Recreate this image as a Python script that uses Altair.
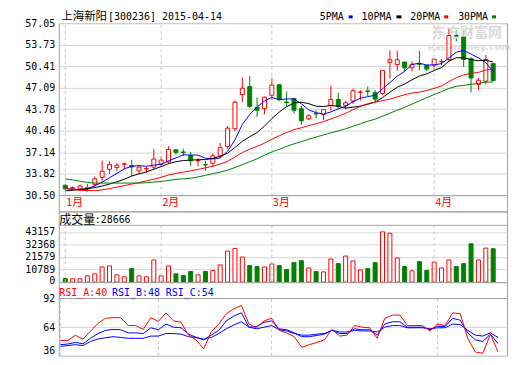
import altair as alt
import pandas as pd

# ---------------- values ----------------
opens = [32.07, 31.60, 31.48, 31.50, 32.21, 33.25, 34.53, 34.82, 35.30, 35.10,
         34.28, 34.60, 34.87, 35.36, 35.66, 37.53, 37.20, 36.64, 35.85, 35.25,
         35.46, 36.59, 38.07, 40.77, 46.04, 47.27, 44.07, 43.87, 45.94, 47.56,
         44.90, 45.45, 43.87, 42.30, 43.12, 42.99, 44.37, 45.30, 44.37, 45.05,
         46.40, 46.60, 46.33, 46.23, 51.00, 50.66, 51.05, 50.17, 50.80, 50.56,
         50.56, 51.10, 51.45, 55.15, 54.89, 51.55, 47.61, 48.10, 50.81]
highs = [32.20, 31.90, 32.20, 32.30, 33.40, 35.85, 35.76, 35.50, 35.60, 36.00,
         35.00, 34.90, 37.70, 36.50, 38.07, 37.60, 37.70, 37.20, 36.25, 35.85,
         37.00, 38.60, 41.20, 45.10, 48.64, 48.89, 45.60, 45.74, 48.64, 47.60,
         46.50, 45.50, 44.27, 43.00, 43.60, 43.80, 47.40, 46.33, 45.10, 46.97,
         46.70, 47.30, 46.73, 49.73, 52.87, 52.80, 51.10, 51.15, 52.77, 50.60,
         51.50, 51.55, 56.22, 55.97, 55.97, 51.79, 48.60, 52.14, 50.81]
lows = [31.40, 31.30, 31.20, 31.10, 31.80, 32.60, 33.80, 34.30, 34.50, 33.50,
        33.80, 34.00, 34.50, 35.00, 35.36, 36.80, 36.60, 35.00, 35.00, 34.30,
        35.00, 36.35, 37.70, 40.43, 44.86, 44.02, 42.60, 43.00, 45.25, 45.10,
        44.20, 43.10, 41.40, 42.15, 42.40, 42.15, 43.60, 43.87, 43.87, 44.60,
        45.10, 45.80, 44.86, 45.99, 48.55, 49.70, 49.60, 49.60, 49.80, 49.70,
        49.80, 50.56, 51.15, 54.25, 50.31, 46.38, 46.72, 47.61, 48.10]
closes = [31.53, 31.70, 31.97, 31.70, 33.05, 34.23, 35.26, 35.17, 35.35, 34.90,
          34.87, 34.65, 36.10, 35.95, 37.58, 37.13, 37.10, 35.85, 35.90, 35.20,
          36.60, 37.87, 40.87, 44.86, 47.02, 44.22, 43.63, 45.64, 47.51, 45.25,
          44.80, 43.63, 42.00, 42.79, 43.05, 43.73, 45.30, 44.27, 44.76, 46.63,
          46.45, 46.50, 45.35, 49.73, 51.40, 51.40, 50.17, 50.71, 50.70, 49.97,
          51.50, 51.15, 55.14, 55.05, 51.45, 48.60, 48.25, 51.45, 48.20]
volumes = [3120, 2840, 2840, 5390, 7100, 13060, 13910, 6240, 4540, 11640,
           5390, 4540, 19020, 5390, 13910, 7100, 5680, 9080, 6240, 9080,
           9930, 14760, 26680, 28950, 21570, 14190, 13340, 13060, 15610, 14190,
           10780, 16740, 18450, 12200, 9080, 8800, 19870, 15890, 22420, 18160,
           10500, 11640, 16740, 43157, 42000, 20720, 13340, 9650, 17600, 9930,
           17310, 12200, 19020, 13340, 15890, 32920, 19020, 29230, 28666]
ma5 = [31.60, 31.45, 31.35, 31.50, 31.99, 32.53, 33.24, 33.88, 34.61, 34.98,
       35.11, 34.99, 35.17, 35.29, 35.83, 36.28, 36.77, 36.72, 36.71, 36.24,
       36.13, 36.28, 37.29, 39.08, 41.44, 42.97, 44.12, 45.07, 45.60, 45.25,
       45.37, 45.37, 44.64, 43.69, 43.25, 43.04, 43.37, 43.83, 44.22, 44.94,
       45.48, 45.72, 45.94, 46.93, 47.89, 48.88, 49.61, 50.68, 50.88, 50.59,
       50.61, 50.81, 51.69, 52.56, 52.86, 52.28, 51.70, 50.96, 49.59]
ma10 = [31.20, 31.30, 31.45, 31.55, 31.70, 31.95, 32.25, 32.60, 33.00, 33.49,
        33.82, 34.12, 34.53, 34.95, 35.41, 35.70, 35.88, 35.95, 36.00, 36.03,
        36.21, 36.53, 37.01, 37.90, 38.84, 39.55, 40.20, 41.18, 42.34, 43.35,
        44.17, 44.74, 44.86, 44.65, 44.25, 44.20, 44.37, 44.23, 43.96, 44.10,
        44.26, 44.55, 44.88, 45.58, 46.41, 47.18, 47.67, 48.31, 48.90, 49.24,
        49.74, 50.21, 51.19, 51.72, 51.72, 51.44, 51.25, 51.33, 51.08]
ma20 = [31.60, 31.40, 31.30, 31.25, 31.25, 31.35, 31.55, 31.80, 32.00, 32.25,
        32.50, 32.75, 33.00, 33.30, 33.65, 33.90, 34.10, 34.30, 34.50, 34.76,
        35.01, 35.32, 35.77, 36.42, 37.12, 37.62, 38.04, 38.56, 39.17, 39.69,
        40.19, 40.64, 40.93, 41.27, 41.55, 41.88, 42.29, 42.71, 43.15, 43.72,
        44.21, 44.65, 44.87, 45.11, 45.33, 45.69, 46.02, 46.27, 46.43, 46.67,
        47.00, 47.38, 48.04, 48.65, 49.07, 49.31, 49.46, 49.82, 49.99]
ma30 = [33.05, 32.90, 32.70, 32.50, 32.41, 32.41, 32.41, 32.41, 32.41, 32.41,
        32.41, 32.46, 32.56, 32.66, 32.80, 33.00, 33.05, 33.15, 33.35, 33.60,
        33.85, 34.10, 34.40, 34.80, 35.25, 35.70, 36.15, 36.70, 37.20, 37.62,
        38.06, 38.46, 38.80, 39.17, 39.50, 39.82, 40.15, 40.45, 40.77, 41.16,
        41.54, 41.94, 42.25, 42.71, 43.17, 43.64, 44.08, 44.57, 45.07, 45.56,
        46.06, 46.50, 46.98, 47.32, 47.46, 47.61, 47.76, 47.96, 47.98]
rsi_a = [50.9, 50.9, 56.2, 52.2, 60.0, 67.7, 72.7, 73.3, 73.3, 65.6,
         65.6, 61.8, 73.3, 69.6, 78.0, 70.2, 68.7, 56.2, 51.6, 42.8,
         59.3, 67.1, 77.1, 82.0, 85.2, 67.1, 63.4, 70.2, 72.7, 60.9,
         58.4, 54.7, 44.4, 46.9, 49.1, 51.6, 61.8, 55.3, 56.2, 65.6,
         64.0, 63.4, 53.1, 72.7, 75.8, 75.8, 65.6, 65.6, 65.6, 60.3,
         67.1, 65.6, 78.0, 77.1, 53.1, 39.7, 38.5, 57.2, 40.0]
rsi_b = [46.9, 47.5, 49.1, 47.8, 53.1, 57.8, 60.9, 61.8, 61.5, 58.4,
         58.4, 57.8, 63.4, 61.5, 67.1, 64.0, 63.4, 57.2, 54.0, 51.6,
         56.2, 60.9, 70.2, 74.9, 78.0, 64.0, 64.6, 68.7, 70.2, 62.4,
         61.5, 58.4, 54.7, 54.7, 55.9, 57.2, 60.9, 57.8, 57.8, 62.4,
         61.5, 61.5, 56.2, 67.1, 69.3, 69.3, 64.0, 64.0, 64.0, 61.5,
         64.9, 64.6, 72.7, 70.8, 58.4, 51.6, 50.0, 57.2, 48.0]
rsi_c = [45.3, 46.0, 46.9, 46.0, 50.0, 52.5, 53.7, 54.7, 54.0, 53.1,
         53.1, 53.1, 55.3, 55.3, 57.8, 57.8, 57.2, 54.7, 54.0, 52.2,
         54.0, 57.8, 62.4, 66.2, 69.3, 64.0, 62.4, 64.0, 65.6, 61.5,
         60.3, 57.8, 56.2, 56.2, 57.2, 57.8, 60.9, 59.3, 59.3, 60.9,
         60.3, 60.3, 59.3, 64.0, 65.6, 65.6, 63.4, 63.4, 63.4, 62.4,
         63.4, 63.4, 67.1, 66.5, 60.9, 56.2, 55.3, 58.4, 54.0]

month_starts = [0, 13, 28, 50]
month_names = ["1月", "2月", "3月", "4月"]
price_ticks = [30.50, 33.82, 37.14, 40.46, 43.78, 47.09, 50.41, 53.73, 57.05]
volume_ticks = [0, 10789, 21579, 32368, 43157]
rsi_ticks = [36, 64, 92]
ma_names = ["5PMA", "10PMA", "20PMA", "30PMA"]
stock_name = "上海新阳"
stock_code_date = "[300236] 2015-04-14"
volume_title = "成交量"
volume_last = ":28666"
rsi_titles = ["RSI_A:40", "RSI_B:48", "RSI_C:54"]
watermark = ["东方财富网", "eastmoney.com"]

# ---------------- style ----------------
RED, GREEN, BLUE, BLACK = "#ff0000", "#008000", "#0000ff", "#000000"
GRID, FRAME, DASH = "#d6d6d6", "#a0a0a0", "#c4c4c4"
MONO, CJK = "DejaVu Sans Mono", "Noto Sans CJK SC"

W = 450
H_PRICE, H_STRIP = 173, 16
HM = H_PRICE + H_STRIP
HV, HV_HEAD = 71, 14
HR, HR_HEAD = 74, 16.5
HEAD_Y = -6.3

n = len(closes)
df = pd.DataFrame({"i": list(range(n)), "open": opens, "high": highs, "low": lows,
                   "close": closes, "volume": volumes, "MA5": ma5, "MA10": ma10,
                   "MA20": ma20, "MA30": ma30, "RA": rsi_a, "RB": rsi_b, "RC": rsi_c})
df["dir"] = ["up" if c >= o else "down" for o, c in zip(opens, closes)]
months = pd.DataFrame({"i": month_starts, "label": month_names})
one = pd.DataFrame({"k": [0]})

x_scale = alt.Scale(domain=[-0.2, 59.2], nice=False, zero=False)
X = alt.X("i:Q", scale=x_scale, axis=None)
stroke_scale = alt.Scale(domain=["up", "down"], range=[RED, GREEN])
fill_scale = alt.Scale(domain=["up", "down"], range=["#ffffff", GREEN])


def txt(text, x, y, size, color=BLACK, font=MONO, align="left", weight="normal"):
    return alt.Chart(pd.DataFrame({"t": [text]})).mark_text(
        align=align, baseline="middle", font=font, fontSize=size, color=color,
        fontWeight=weight).encode(x=alt.value(x), y=alt.value(y), text="t:N")


def axis(values, fmt, flush, flush_offset=0):
    return alt.Axis(values=values, format=fmt, grid=True, gridColor=GRID, domain=False,
                    ticks=False, labelPadding=4, labelFont=MONO, labelFontSize=10,
                    labelColor=BLACK, labelFlush=flush, labelFlushOffset=flush_offset,
                    labelOverlap=False, title=None)


# ---------------- price panel ----------------
p_lo, p_hi = price_ticks[0], price_ticks[-1]
p_min = p_lo - H_STRIP * (p_hi - p_lo) / H_PRICE
pscale = alt.Scale(domain=[p_min, p_hi], nice=False, zero=False)
P_AXIS = axis(price_ticks, ".2f", False)


def PY(f):
    return alt.Y(f, scale=pscale, axis=P_AXIS)


wm1 = txt(watermark[0], W - 40, 10, 14, color="#dadada", font=CJK, align="center", weight="bold")
wm2 = txt(watermark[1], W - 38, 23.5, 9.5, color="#dcdcdc", font="DejaVu Sans",
          align="center", weight="bold")
wicks = alt.Chart(df).mark_rule(strokeWidth=1).encode(
    x=X, y=PY("low:Q"), y2="high:Q",
    color=alt.Color("dir:N", scale=stroke_scale, legend=None))
p_dash = alt.Chart(months).mark_rule(color=DASH, strokeDash=[3, 3]).encode(
    x=X, y=alt.Y(datum=p_lo, scale=pscale, axis=P_AXIS), y2=alt.datum(p_hi))
p_sep = alt.Chart(one).mark_rule(color=FRAME).encode(y=alt.Y(datum=p_lo, scale=pscale, axis=P_AXIS))
bodies = alt.Chart(df).mark_bar(size=4, strokeWidth=1).encode(
    x=X, y=PY("open:Q"), y2="close:Q",
    fill=alt.Fill("dir:N", scale=fill_scale, legend=None),
    stroke=alt.Stroke("dir:N", scale=stroke_scale, legend=None))
ma_cols = ["MA5", "MA10", "MA20", "MA30"]
ma_colors = [BLUE, BLACK, RED, GREEN]
ma_lines = [alt.Chart(df).mark_line(strokeWidth=1, color=c).encode(x=X, y=PY(f"{m}:Q"))
            for m, c in zip(ma_cols, ma_colors)]
m_labels = alt.Chart(months).mark_text(align="left", baseline="middle", dx=1, font=CJK,
                                       fontSize=11, color=RED).encode(
    x=X, y=alt.value(H_PRICE + 7.6), text="label:N")
head = [txt(stock_name, 2.5, HEAD_Y, 11.5, font=CJK), txt(stock_code_date, 49.5, HEAD_Y, 10)]
label_right = [164, 116, 67, 19]
dash_span = [(159, 155), (111, 106), (63, 59), (15, 11)]
for name, col, lr, (d1, d2) in zip(ma_names, ma_colors, label_right, dash_span):
    head.append(txt(name, W - lr, HEAD_Y, 10, align="right"))
    head.append(alt.Chart(one).mark_rule(color=col, strokeWidth=3).encode(
        x=alt.value(W - d1), x2=alt.value(W - d2), y=alt.value(HEAD_Y)))

price = alt.layer(wicks, wm1, wm2, p_dash, p_sep, bodies, *ma_lines, m_labels, *head
                  ).properties(width=W, height=HM)

# ---------------- volume panel ----------------
VTOP = volume_ticks[-1] * HV / 50.4
vscale = alt.Scale(domain=[0, VTOP], nice=False)
v_dash = alt.Chart(months).mark_rule(color=DASH, strokeDash=[3, 3]).encode(
    x=X, y=alt.value(HV_HEAD), y2=alt.value(HV))
v_sep = alt.Chart(one).mark_rule(color=FRAME).encode(y=alt.value(HV_HEAD))
vbars = alt.Chart(df).mark_bar(size=4, strokeWidth=1).encode(
    x=X, y=alt.Y("volume:Q", scale=vscale, axis=axis(volume_ticks, "d", True, 3)),
    fill=alt.Fill("dir:N", scale=fill_scale, legend=None),
    stroke=alt.Stroke("dir:N", scale=stroke_scale, legend=None))
v_head = [txt(volume_title, 0.5, 8.5, 12, font=CJK), txt(volume_last, 36, 8.5, 10)]
volume = alt.layer(vbars, v_dash, v_sep, *v_head).properties(width=W, height=HV)

# ---------------- RSI panel ----------------
RTOP = rsi_ticks[-1] + HR_HEAD * (rsi_ticks[-1] - rsi_ticks[0]) / (HR - HR_HEAD)
rscale = alt.Scale(domain=[rsi_ticks[0], RTOP], nice=False, zero=False)
R_AXIS = axis(rsi_ticks, "d", True)
r_lines = [alt.Chart(df).mark_line(strokeWidth=1, color=c).encode(
    x=X, y=alt.Y(f"{f}:Q", scale=rscale, axis=R_AXIS))
    for f, c in [("RC", BLUE), ("RB", BLUE), ("RA", RED)]]
r_dash = alt.Chart(months).mark_rule(color=DASH, strokeDash=[3, 3]).encode(
    x=X, y=alt.Y(datum=rsi_ticks[0], scale=rscale, axis=R_AXIS), y2=alt.datum(rsi_ticks[-1]))
r_sep = alt.Chart(one).mark_rule(color=FRAME).encode(
    y=alt.Y(datum=rsi_ticks[-1], scale=rscale, axis=R_AXIS))
r_head = [txt(rsi_titles[0], 0.5, 11, 10, color=RED),
          txt(rsi_titles[1], 53.5, 11, 10, color=BLUE),
          txt(rsi_titles[2], 107.5, 11, 10, color=BLUE)]
rsi = alt.layer(r_dash, r_sep, *r_lines, *r_head).properties(width=W, height=HR)

chart = alt.vconcat(price, volume, rsi, spacing=0, bounds="flush").properties(
    padding={"left": 16, "right": 0, "top": 1.5, "bottom": 0}
).configure_view(stroke=FRAME, strokeWidth=1)

chart.save("out.html", embed_options={"renderer": "svg", "actions": False})
